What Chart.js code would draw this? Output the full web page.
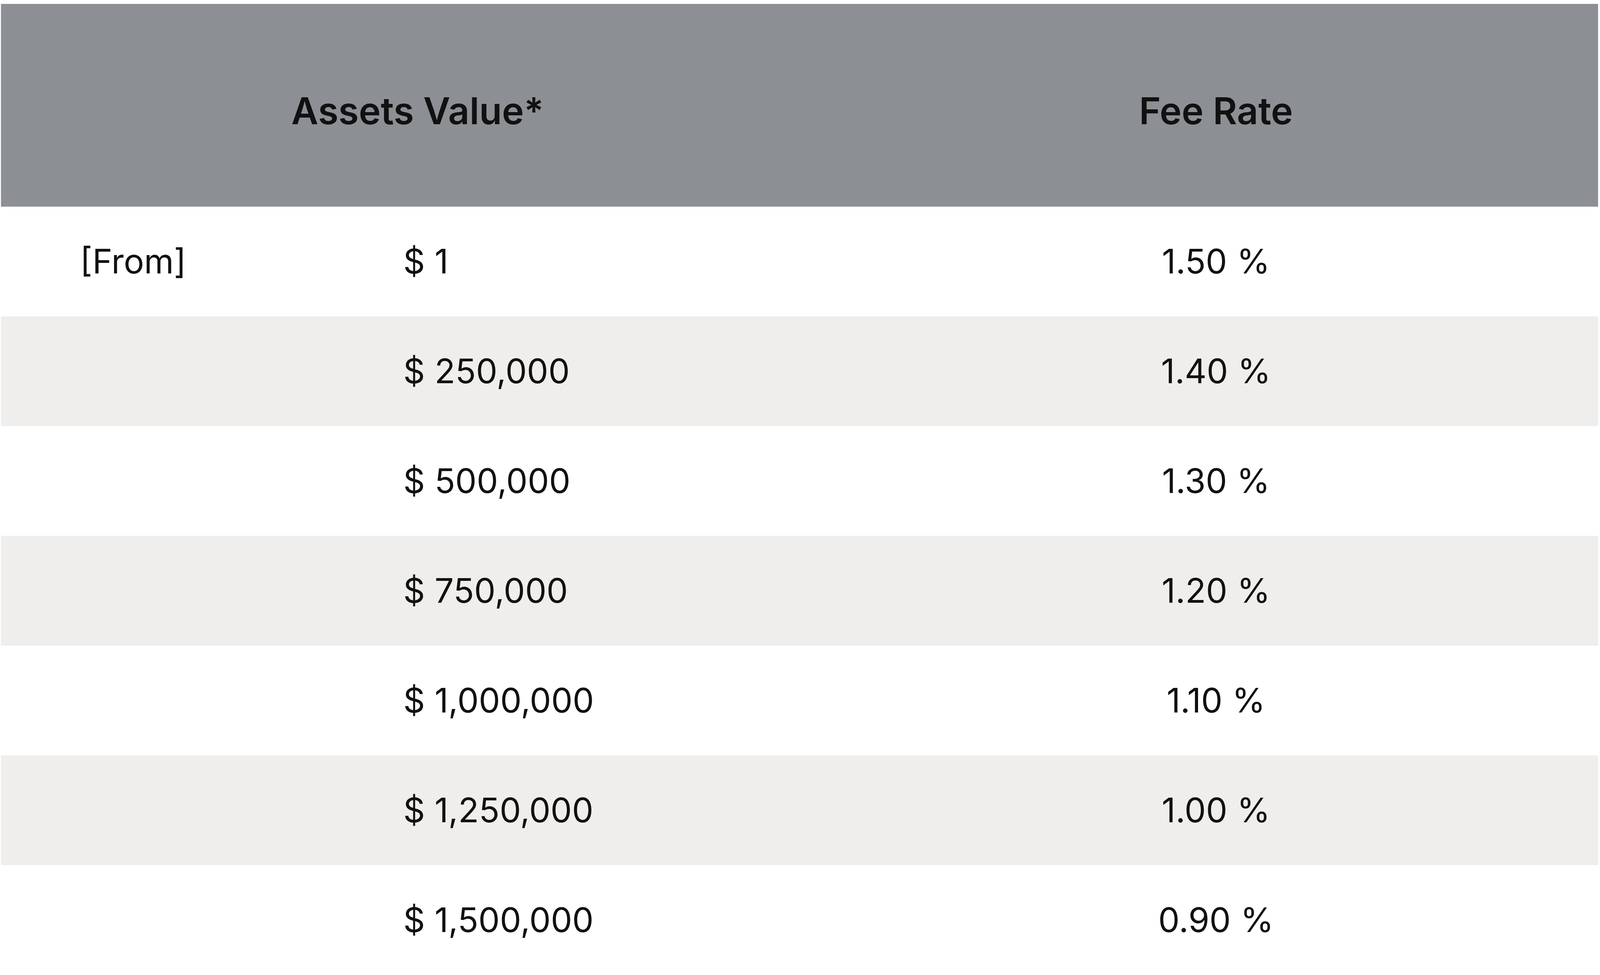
<!DOCTYPE html>
<html><head><meta charset="utf-8">
<script src="https://cdn.jsdelivr.net/npm/chart.js@4"></script>
<style>html,body{margin:0;padding:0;background:#fff;overflow:hidden}#wrap{width:100vw;height:100vh;position:relative}</style>
</head><body><div id="wrap"><canvas id="c"></canvas></div>
<script>
const headers = ["Assets Value*", "Fee Rate"];
const rowPrefix = ["[From]", "", "", "", "", "", ""];
const assetValues = ["$ 1", "$ 250,000", "$ 500,000", "$ 750,000", "$ 1,000,000", "$ 1,250,000", "$ 1,500,000"];
const feeRates = ["1.50 %", "1.40 %", "1.30 %", "1.20 %", "1.10 %", "1.00 %", "0.90 %"];

const rowColors = assetValues.map((_, i) => i % 2 === 0 ? "#ffffff" : "#efeeec");
const FONT = "Inter, 'DejaVu Sans', sans-serif";

const tablePlugin = {
  id: "tableText",
  beforeDatasetsDraw(chart) {
    const ctx = chart.ctx, area = chart.chartArea, H = chart.height;
    ctx.save();
    ctx.fillStyle = "#8c9094";
    ctx.fillRect(area.left, H * 0.004, area.right - area.left, area.top - H * 0.004);
    ctx.restore();
  },
  afterDatasetsDraw(chart) {
    const ctx = chart.ctx, y = chart.scales.y, W = chart.width, H = chart.height;
    const s = Math.min(W / 5279, H / 2496);
    ctx.save();
    ctx.fillStyle = "#111111";
    ctx.textBaseline = "middle";
    ctx.textAlign = "center";
    ctx.font = "600 " + Math.round(122 * s) + "px " + FONT;
    ctx.fillText(headers[0], W * 0.261, H * 0.116);
    ctx.fillText(headers[1], W * 0.760, H * 0.116);
    ctx.font = "400 " + Math.round(112 * s) + "px " + FONT;
    assetValues.forEach((v, i) => {
      const py = y.getPixelForValue(i) + 6 * s;
      ctx.textAlign = "left";
      if (rowPrefix[i]) ctx.fillText(rowPrefix[i], W * 0.050, py);
      ctx.fillText(v, W * 0.252, py);
      ctx.textAlign = "center";
      ctx.fillText(feeRates[i], W * 0.760, py);
    });
    ctx.restore();
  }
};

const wrap = document.getElementById("wrap");
const Wd = wrap.clientWidth, Hd = wrap.clientHeight;
new Chart(document.getElementById("c"), {
  type: "bar",
  data: {
    labels: assetValues,
    datasets: [{
      data: assetValues.map(() => [0, 1]),
      backgroundColor: rowColors,
      borderWidth: 0,
      barPercentage: 1,
      categoryPercentage: 1
    }]
  },
  options: {
    indexAxis: "y",
    responsive: true,
    maintainAspectRatio: false,
    animation: false,
    layout: { padding: { top: Hd * 0.212, left: Wd * 0.0006, right: Wd * 0.0012, bottom: -Hd * 0.008 } },
    plugins: { legend: { display: false }, tooltip: { enabled: false } },
    scales: {
      x: { display: false, min: 0, max: 1 },
      y: { display: false }
    }
  },
  plugins: [tablePlugin]
});
</script></body></html>
